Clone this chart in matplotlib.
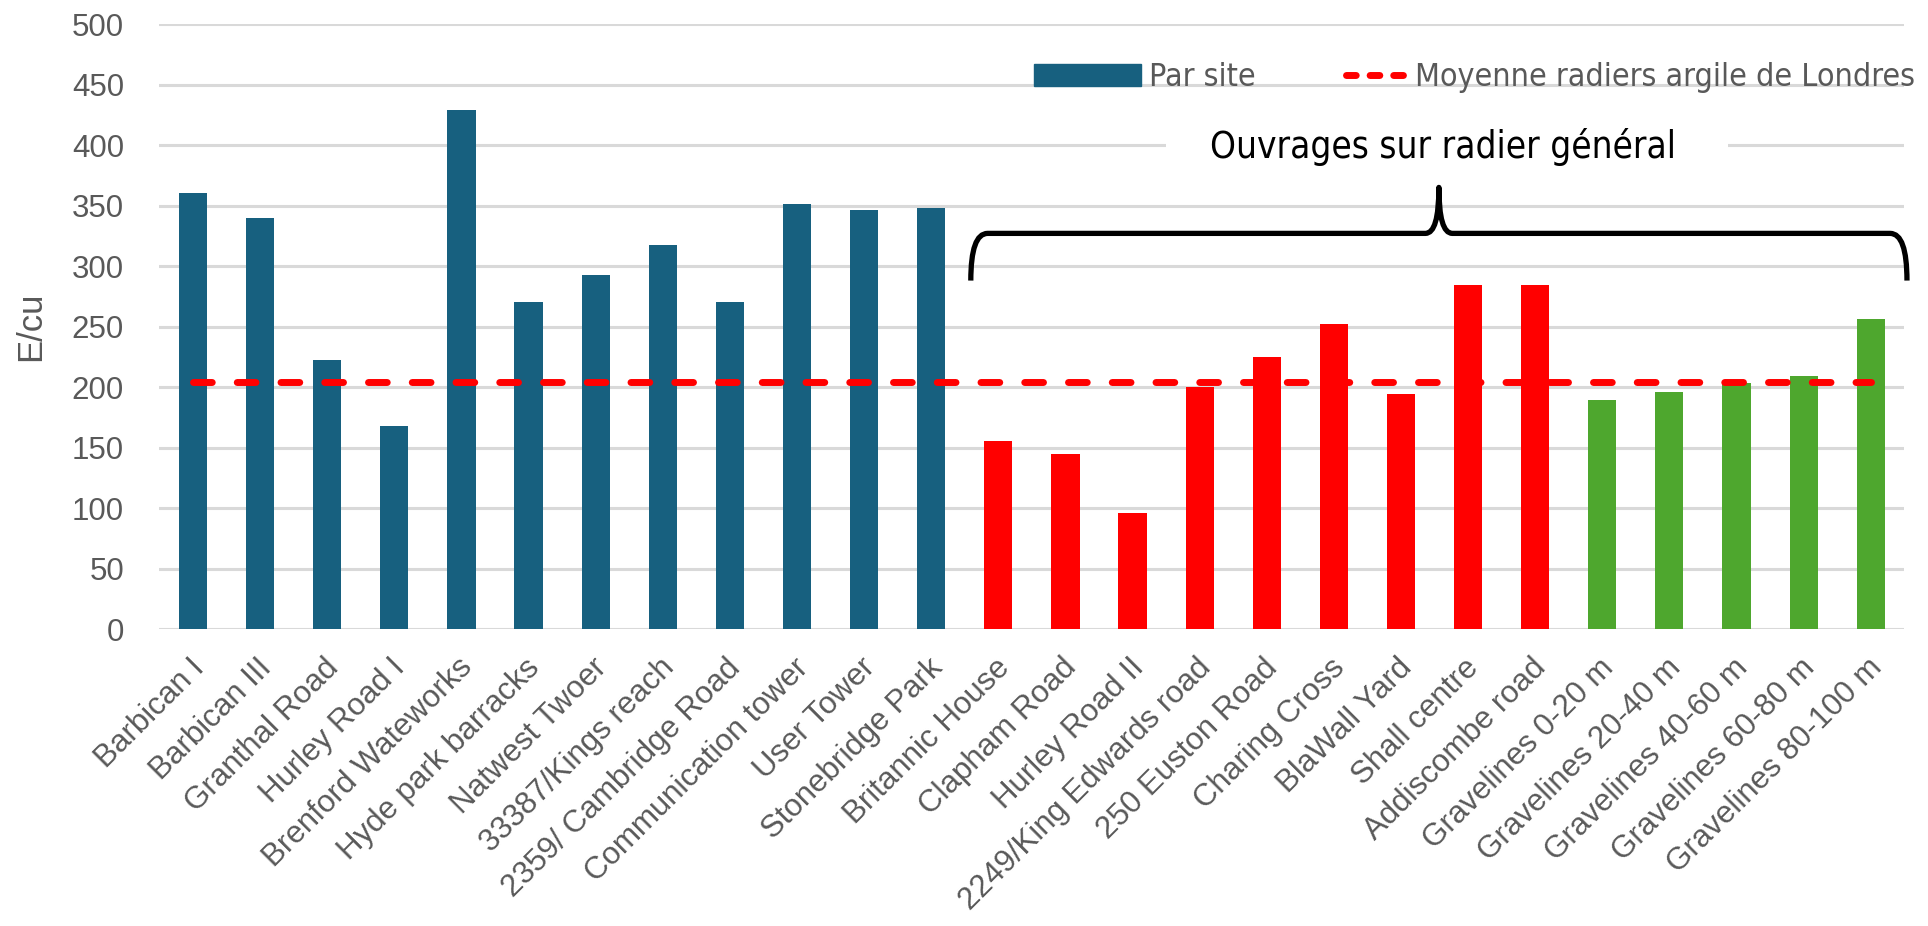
import matplotlib
matplotlib.use("Agg")
import matplotlib.pyplot as plt
import matplotlib.transforms as mtransforms
from matplotlib.path import Path
from matplotlib.patches import PathPatch, Patch, Rectangle
from matplotlib.lines import Line2D
from matplotlib.legend_handler import HandlerBase
from matplotlib import font_manager

categories = ["Barbican I", "Barbican III", "Granthal Road", "Hurley Road I", "Brenford Wateworks",
              "Hyde park barracks", "Natwest Twoer", "33387/Kings reach", "2359/ Cambridge Road",
              "Communication tower", "User Tower", "Stonebridge Park", "Britannic House",
              "Clapham Road", "Hurley Road II", "2249/King Edwards road", "250 Euston Road",
              "Charing Cross", "BlaWall Yard", "Shall centre", "Addiscombe road",
              "Gravelines 0-20 m", "Gravelines 20-40 m", "Gravelines 40-60 m",
              "Gravelines 60-80 m", "Gravelines 80-100 m"]
values = [360, 340, 222, 168, 429, 270, 293, 317, 270, 351, 346, 348,
          155, 145, 96, 200, 225, 252, 194, 284, 284,
          189, 196, 203, 209, 256]
groups = ["pieux"] * 12 + ["radier"] * 9 + ["gravelines"] * 5
mean_value = 204
legend_labels = ["Par site", "Moyenne radiers argile de Londres"]
annotation_text = "Ouvrages sur radier général"
y_label = "E/cu"

group_colors = {"pieux": "#17607F", "radier": "#FF0000", "gravelines": "#4EA72E"}
gray = "#595959"

names = {f.name for f in font_manager.fontManager.ttflist}
narrow = "Liberation Sans Narrow" if "Liberation Sans Narrow" in names else "DejaVu Sans"
narrow_kw = {"family": narrow}
if narrow == "DejaVu Sans":
    narrow_kw["stretch"] = "condensed"

plt.rcParams["font.family"] = ["Liberation Sans", "DejaVu Sans"]

fig = plt.figure(figsize=(19.28, 9.26), dpi=100)
ax = fig.add_axes([0.0827, 0.3207, 0.905, 0.6533])

x = list(range(len(categories)))
ax.bar(x, values, width=0.42, color=[group_colors[g] for g in groups], zorder=3)
ax.plot([x[0], x[-1]], [mean_value, mean_value], color="#FF0000", lw=5,
        linestyle=(0, (2.7, 3.6)), dash_capstyle="round", zorder=4)

ax.set_xlim(-0.5, len(categories) - 0.5)
ax.set_ylim(0, 500)
ax.set_yticks(range(0, 501, 50))
ax.yaxis.grid(True, color="#D9D9D9", lw=2.2, zorder=0)
ax.set_axisbelow(True)
for s in ax.spines.values():
    s.set_visible(False)
ax.tick_params(axis="both", length=0, colors=gray)
ax.tick_params(axis="y", labelsize=22.5, pad=25.5)
ax.set_xticks(x)
ax.set_xticklabels(categories, rotation=45, ha="right", rotation_mode="anchor",
                   fontsize=22.5, color=gray)
ax.tick_params(axis="x", pad=17)
shift = mtransforms.ScaledTranslation(-0.04, 0, fig.dpi_scale_trans)
for lab in ax.get_xticklabels():
    lab.set_transform(lab.get_transform() + shift)
ax.set_ylabel(y_label, fontsize=25, color=gray)
ax.yaxis.set_label_coords(-0.0645, 0.5)

# Brace
xl, xr = 11.59, 25.54
xm = (xl + xr) / 2
yb, yh, yt = 288, 327, 365
dx, dxt = 0.25, 0.2
verts = [(xl, yb), (xl, yh), (xl + dx, yh),
         (xm - dxt, yh), (xm, yh), (xm, yt),
         (xm, yh), (xm + dxt, yh),
         (xr - dx, yh), (xr, yh), (xr, yb)]
codes = [Path.MOVETO, Path.CURVE3, Path.CURVE3,
         Path.LINETO, Path.CURVE3, Path.CURVE3,
         Path.CURVE3, Path.CURVE3,
         Path.LINETO, Path.CURVE3, Path.CURVE3]
ax.add_patch(PathPatch(Path(verts, codes), fill=False, lw=3.8, color="black",
                       zorder=5, clip_on=False, capstyle="butt", joinstyle="round"))
ax.add_patch(Rectangle((14.5, 385), 22.88 - 14.5, 27, facecolor="white",
                       edgecolor="none", zorder=1))
ax.text(xm + 0.06, 398, annotation_text, ha="center", va="center", fontsize=26.5,
        color="black", zorder=6, **narrow_kw)


class ShortDashHandler(HandlerBase):
    def create_artists(self, legend, orig_handle, xdescent, ydescent, width, height,
                       fontsize, trans):
        lw = orig_handle.get_linewidth()
        d, g = 1.4, 2.0
        length = (3 * d + 2 * g) * lw
        end = width - xdescent - 0.5 * lw
        line = Line2D([end - length, end], [height / 2 - ydescent] * 2,
                      color=orig_handle.get_color(), lw=lw, linestyle=(0, (d, g)),
                      dash_capstyle="round")
        line.set_transform(trans)
        return [line]


bar_handle = Patch(color=group_colors["pieux"])
line_handle = Line2D([0], [0], color="#FF0000", lw=5)
leg = ax.legend([bar_handle, line_handle], legend_labels, loc="center right",
                bbox_to_anchor=(1.006, 0.912),
                ncol=2, frameon=False, handlelength=3.35,
                handleheight=0.69, columnspacing=1.35, handletextpad=0.27,
                labelcolor=gray, borderaxespad=0.0, borderpad=0.0,
                handler_map={Line2D: ShortDashHandler()},
                prop=font_manager.FontProperties(size=23, **narrow_kw))

fig.savefig("out.png", dpi=100)
